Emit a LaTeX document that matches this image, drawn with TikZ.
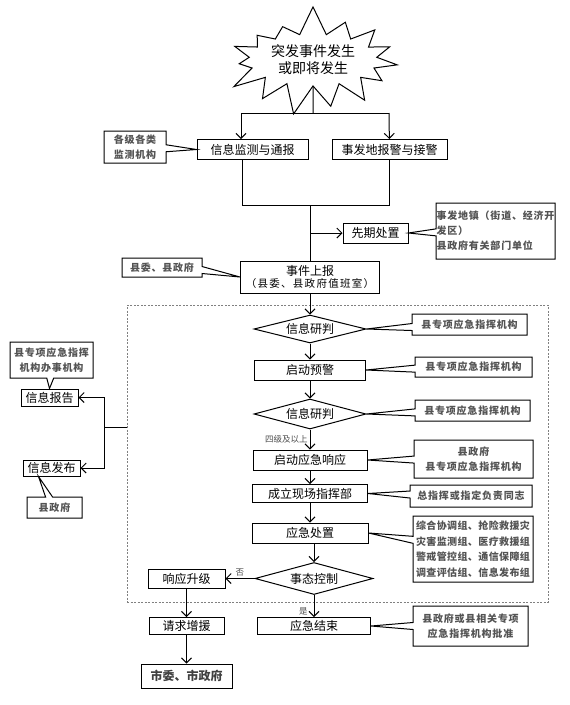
\documentclass[tikz,border=0pt]{standalone}
\usepackage{fontspec}
\setmainfont{Noto Sans CJK SC}
\usetikzlibrary{positioning,arrows.meta,calc}
\usetikzlibrary{shapes.geometric,shapes.symbols,shapes.callouts}

\tikzset{
	box/.style={draw,line width=1pt,inner sep=0pt,
		font=\fontsize{12}{14}\selectfont},
	decide/.style={draw,diamond,shape aspect=3.7,line width=1pt,
		inner sep=0pt,font=\fontsize{12}{14}\selectfont},
	note/.style={rectangle callout,draw,line width=1pt,inner sep=0pt,
		callout pointer width=7pt,align=center,text=gray!65!black,
		font=\fontsize{10}{15}\selectfont\bfseries\addfontfeature{LetterSpace=8}},
	tag/.style={text=black!70,inner sep=1pt,
		font=\fontsize{8.5}{10}\selectfont},
	zone/.style={draw=gray,dash pattern=on 2pt off 1.5pt,line width=0.6pt,
		inner sep=0pt},
}

\begin{document}
\begin{tikzpicture}[x=1pt,y=-1pt,>={Straight Barb[length=5pt,width=10pt]},line width=1pt]
	\useasboundingbox (0,0) rectangle (570,705);

	% top: event
	\node[starburst,draw,line width=1pt,starburst points=15,
		  starburst point height=30pt,random starburst=7,
		  minimum width=158pt,minimum height=96pt,align=center,
		  font=\fontsize{14}{17}\selectfont]
		  (burst) at (313,60) {突发事件发生\\或即将发生};
	\coordinate (split) at (313,113);
	\coordinate (sL) at (241,113);
	\coordinate (sR) at (389,113);

	\node[box,minimum width=111pt,minimum height=20pt] (mon) at (252.5,149.5) {信息监测与通报};
	\node[box,minimum width=115pt,minimum height=20pt] (alarm) at (389.5,149.5) {事发地报警与接警};
	\node[note,minimum width=62pt,minimum height=32pt,
		  callout absolute pointer={(mon.west)}] (k0) at (135,147) {各级各类\\监测机构};

	\draw (burst.south) -- (split);
	\draw (sL) -- (sR);
	\draw[->] (sL) -- (sL |- mon.north);
	\draw[->] (sR) -- (alarm);

	% merge and early handling
	\coordinate (mL) at (242,205);
	\coordinate (mC) at (310,205);
	\coordinate (mR) at (389.5,205);
	\node[box,minimum width=65pt,minimum height=20pt] (early) at (375.5,233) {先期处置};
	\node[note,minimum width=119pt,minimum height=56pt,align=left,
		  callout absolute pointer={(early.east)}] (k1) at (495.5,231)
		  {事发地镇（街道、经济开\\发区）\\县政府有关部门单位};
	\node[box,minimum width=139pt,minimum height=32pt,align=center] (report) at (310,277)
		  {事件上报\\[-2pt]{\fontsize{10.5}{12}\selectfont\addfontfeature{LetterSpace=12}（县委、县政府值班室）}};
	\node[note,minimum width=80pt,minimum height=19pt,
		  callout absolute pointer={(report.west)}] (k2) at (162,267.5) {县委、县政府};

	\draw (mL |- mon.south) -- (mL) -- (mR) -- (alarm.south);
	\draw (mC) -- (report.north);
	\draw[->] (mC |- early) -- (early);

	% response frame
	\node[zone,minimum width=421pt,minimum height=297pt] (frame) at (337.5,453.5) {};

	\node[decide,minimum width=112pt,minimum height=28pt] (j1) at (310,329) {信息研判};
	\node[box,minimum width=111pt,minimum height=20pt] (warn) at (310,370) {启动预警};
	\node[decide,minimum width=112pt,minimum height=30pt] (j2) at (310,414) {信息研判};
	\node[box,minimum width=114pt,minimum height=20pt] (resp) at (310,460) {启动应急响应};
	\node[box,minimum width=115pt,minimum height=18pt] (cmd) at (310,493.5) {成立现场指挥部};
	\node[box,minimum width=116pt,minimum height=20pt] (disp) at (310,533) {应急处置};
	\node[decide,minimum width=118pt,minimum height=32pt] (j3) at (314,578.5) {事态控制};

	\node[note,minimum width=115pt,minimum height=21pt,
		  callout absolute pointer={(j1.east)}] (k3) at (469.5,324.5) {县专项应急指挥机构};
	\node[note,minimum width=117pt,minimum height=20pt,
		  callout absolute pointer={(warn.east)}] (k4) at (473.5,367) {县专项应急指挥机构};
	\node[note,minimum width=115pt,minimum height=21pt,
		  callout absolute pointer={(j2.east)}] (k5) at (472.5,410.5) {县专项应急指挥机构};
	\node[note,minimum width=119pt,minimum height=38pt,
		  callout absolute pointer={(resp.east)}] (k6) at (473.5,459) {县政府\\县专项应急指挥机构};
	\node[note,minimum width=122pt,minimum height=22pt,
		  callout absolute pointer={(cmd.east)}] (k7) at (471,496) {总指挥或指定负责同志};
	\node[note,minimum width=120pt,minimum height=66pt,
		  font=\fontsize{10}{15.5}\selectfont\bfseries\addfontfeature{LetterSpace=4},
		  callout absolute pointer={(disp.east)}] (k8) at (473,549)
		  {综合协调组、抢险救援灾\\灾害监测组、医疗救援组\\警戒管控组、通信保障组\\调查评估组、信息发布组};

	\draw[->] (report) -- (j1);
	\draw[->] (j1) -- (warn);
	\draw[->] (warn) -- (j2);
	\draw[->] (j2) -- node[tag,left=1pt]{四级及以上} (resp);
	\draw[->] (resp) -- (cmd);
	\draw[->] (cmd) -- (disp);
	\draw[->] (disp.south -| j3) -- (j3);

	% outcome
	\node[box,minimum width=77pt,minimum height=19pt] (up) at (186.5,578.5) {响应升级};
	\node[box,minimum width=75pt,minimum height=17pt] (help) at (186.5,626) {请求增援};
	\node[box,minimum width=91pt,minimum height=24pt,text=black!75,
		  font=\fontsize{12}{14}\selectfont\bfseries] (city) at (186.5,676) {市委、市政府};
	\node[box,minimum width=113pt,minimum height=17pt] (over) at (314,626) {应急结束};
	\node[note,minimum width=115pt,minimum height=40pt,
		  callout absolute pointer={(over.east)}] (k9) at (470.5,626)
		  {县政府或县相关专项\\应急指挥机构批准};

	\draw[->] (j3) -- node[tag,above=1pt]{否} (up);
	\draw[->] (j3) -- node[tag,left=5pt,pos=0.75]{是} (over);
	\draw[->] (up) -- (help);
	\draw[->] (help) -- (city);

	% information branch
	\node[box,minimum width=57pt,minimum height=17pt] (rep) at (49.5,397.5) {信息报告};
	\node[box,minimum width=57pt,minimum height=16pt] (pub) at (51.5,468) {信息发布};
	\node[note,minimum width=83pt,minimum height=36pt,
		  callout absolute pointer={(rep.north)}] (k10) at (51.5,360) {县专项应急指挥\\机构办事机构};
	\node[note,minimum width=55pt,minimum height=21pt,
		  callout absolute pointer={([xshift=-13pt]pub.south)}] (k11) at (54.5,507.5) {县政府};

	\coordinate (bk) at (104,427);
	\draw (frame.west |- bk) -- (bk);
	\draw[->] (bk) |- (rep);
	\draw[->] (bk) |- (pub);
\end{tikzpicture}
\end{document}
